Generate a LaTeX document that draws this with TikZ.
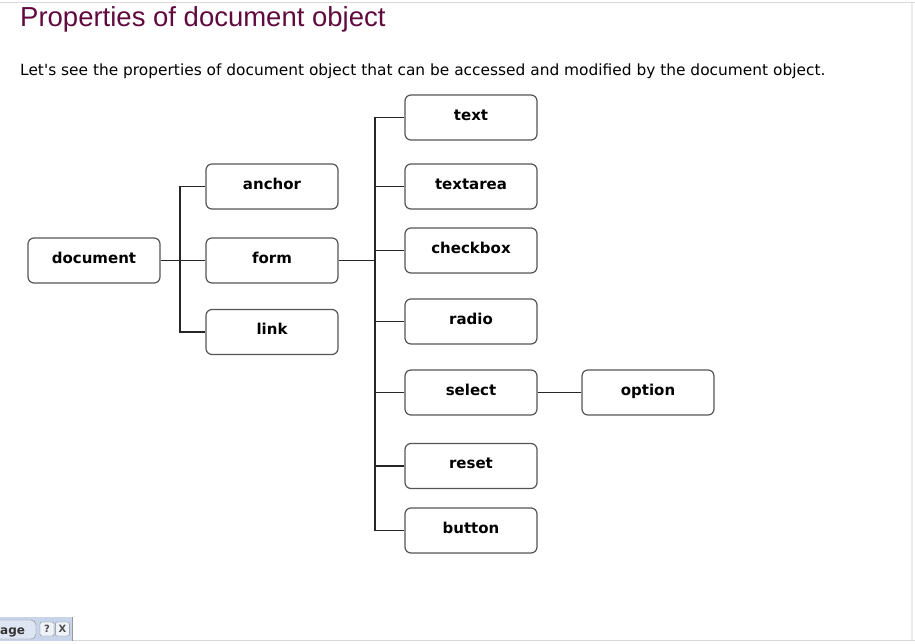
\documentclass[tikz,border=0pt]{standalone}
\usepackage{fontspec}
\setmainfont{DejaVu Sans}
\newfontfamily\titlefont{Liberation Sans}
\usetikzlibrary{positioning}
\definecolor{titlecol}{RGB}{96,10,62}
\definecolor{boxline}{RGB}{85,85,85}
\definecolor{panelcol}{RGB}{200,212,234}
\tikzset{
	propbox/.style = {draw=boxline, fill=white, line width=1.2bp, rounded corners=6bp,
		minimum width=132bp, minimum height=45bp, inner sep=0pt,
		text height=0.75em, text depth=0.15em,
		font=\fontsize{15bp}{17bp}\selectfont\bfseries},
	branch/.style = {draw=black!85, line width=1.1bp}
}

\begin{document}
\begin{tikzpicture}[x=1bp, y=-1bp]

	% page frame
	\useasboundingbox (0,0) rectangle (915,644);
	\draw[black!15, line width=1bp] (0,3) -- (915,3);
	\draw[black!15, line width=1bp] (70,640) -- (915,640);
	\draw[black!8, line width=2bp] (912,3) -- (912,640);

	% heading
	\node[anchor=base west, inner sep=0pt, text=titlecol, font=\titlefont\fontsize{27.5bp}{29bp}\selectfont] (title) at (20,27) {Properties of document object};
	\node[anchor=base west, inner sep=0pt, font=\fontsize{15.4bp}{17bp}\selectfont] (intro) at (20,76) {Let\textquotesingle s see the properties of document object that can be accessed and modified by the document object.};

	% left part of the tree
	\node[propbox] (document) at (94,260.5) {document};
	\node[propbox] (anchor) at (272,186.5) {anchor};
	\node[propbox] (form) at (272,260.5) {form};
	\node[propbox] (link) at (272,332) {link};

	% form elements
	\node[propbox] (text) at (471,117.5) {text};
	\node[propbox] (textarea) at (471,186.5) {textarea};
	\node[propbox] (checkbox) at (471,250.5) {checkbox};
	\node[propbox] (radio) at (471,321.5) {radio};
	\node[propbox] (select) at (471,392.5) {select};
	\node[propbox] (reset) at (471,466) {reset};
	\node[propbox] (button) at (471,530.5) {button};
	\node[propbox] (option) at (648,392.5) {option};

	% connectors
	\coordinate (busa) at (180,262);
	\coordinate (busb) at (375,262);
	\draw[branch] (document.east) -- (form.west);
	\draw[branch] (anchor.west) -- (anchor.west -| busa) |- (link.west);
	\draw[branch] (form.east) -- (form.east -| busb);
	\draw[branch] (text.west) -- (text.west -| busb) |- (button.west);
	\foreach \kid in {textarea,checkbox,radio,select,reset}
		\draw[branch] (\kid.west) -- (\kid.west -| busb);
	\draw[branch] (select.east) -- (option.west);

	% toolbar stub bottom left
	\fill[panelcol] (0,617) rectangle (72,641);
	\draw[black!40] (72,617) -- (72,641);
	\draw[boxline!70, fill=panelcol!60!white, rounded corners=5bp] (-10,620) rectangle (36,639);
	\node[anchor=base west, inner sep=0pt, font=\fontsize{12bp}{13bp}\selectfont\bfseries, text=black!80] (pagebtn) at (0,634) {age};
	\node[draw=boxline!70, fill=white!70!panelcol, rounded corners=2bp, minimum size=14bp, inner sep=0pt, font=\fontsize{10bp}{10bp}\selectfont\bfseries, text=black!70] (helpbtn) at (47,629) {?};
	\node[draw=boxline!70, fill=white!70!panelcol, rounded corners=2bp, minimum size=14bp, inner sep=0pt, font=\fontsize{10bp}{10bp}\selectfont\bfseries, text=black!70, right=1bp of helpbtn] (closebtn) {X};

\end{tikzpicture}
\end{document}
